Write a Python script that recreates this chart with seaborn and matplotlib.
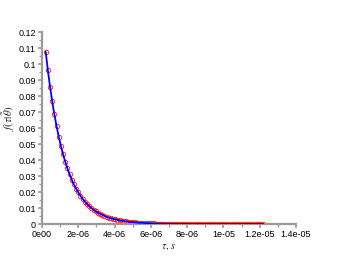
import numpy as np
import pandas as pd
import matplotlib
matplotlib.use('Agg')
import matplotlib.pyplot as plt
import seaborn as sns
from matplotlib.ticker import MultipleLocator

# tiempos en microsegundos
tau_us = [0.20, 0.32, 0.44, 0.56, 0.68, 0.80, 0.92, 1.04, 1.16, 1.28,
          1.40, 1.52, 1.64, 1.76, 1.88, 2.00, 2.12, 2.24, 2.36, 2.48,
          2.60, 2.72, 2.84, 2.96, 3.08, 3.20, 3.32, 3.44, 3.56, 3.68,
          3.80, 3.92, 4.04, 4.16, 4.28, 4.40, 4.52, 4.64, 4.76, 4.88,
          5.00, 5.12, 5.24, 5.36, 5.48, 5.60, 5.72, 5.84, 5.96, 6.08,
          6.20, 6.32, 6.44, 6.56, 6.68, 6.80, 6.92, 7.04, 7.16, 7.28,
          7.40, 7.52, 7.64, 7.76, 7.88, 8.00, 8.12, 8.24, 8.36, 8.48,
          8.60, 8.72, 8.84, 8.96, 9.08, 9.20, 9.32, 9.44, 9.56, 9.68,
          9.80, 9.92, 10.04, 10.16, 10.28, 10.40, 10.52, 10.64, 10.76, 10.88,
          11.00, 11.12, 11.24, 11.36, 11.48, 11.60, 11.72, 11.84, 11.96, 12.08,
          12.20]

f_vals = [0.1077, 0.0962, 0.0859, 0.0767, 0.0685, 0.0612, 0.0546, 0.0488, 0.0436, 0.0389,
          0.0347, 0.0310, 0.0277, 0.0247, 0.0221, 0.0197, 0.0176, 0.0157, 0.0140, 0.0125,
          0.0112, 0.0100, 0.0089, 0.0080, 0.0071, 0.0064, 0.0057, 0.0051, 0.0045, 0.0040,
          0.0036, 0.0032, 0.0029, 0.0026, 0.0023, 0.0021, 0.0018, 0.0016, 0.0015, 0.0013,
          0.0012, 0.0011, 0.0009, 0.0008, 0.0008, 0.0007, 0.0006, 0.0005, 0.0005, 0.0004,
          0.0004, 0.0003, 0.0003, 0.0003, 0.0002, 0.0002, 0.0002, 0.0002, 0.0001, 0.0001,
          0.0001, 0.0001, 0.0001, 0.0001, 0.0001, 0.0000, 0.0000, 0.0000, 0.0000, 0.0000,
          0.0000, 0.0000, 0.0000, 0.0000, 0.0000, 0.0000, 0.0000, 0.0000, 0.0000, 0.0000,
          0.0000, 0.0000, 0.0000, 0.0000, 0.0000, 0.0000, 0.0000, 0.0000, 0.0000, 0.0000,
          0.0000, 0.0000, 0.0000, 0.0000, 0.0000, 0.0000, 0.0000, 0.0000, 0.0000, 0.0000,
          0.0000]

x_ticks = [0, 2e-6, 4e-6, 6e-6, 8e-6, 1e-5, 1.2e-5, 1.4e-5]
x_labels = ['0e00', '2e-06', '4e-06', '6e-06', '8e-06', '1e-05', '1.2e-05', '1.4e-05']
y_ticks = [0, 0.01, 0.02, 0.03, 0.04, 0.05, 0.06, 0.07, 0.08, 0.09, 0.1, 0.11, 0.12]
y_labels = ['0', '0.01', '0.02', '0.03', '0.04', '0.05', '0.06', '0.07', '0.08', '0.09', '0.1', '0.11', '0.12']

df = pd.DataFrame({'tau': np.array(tau_us) * 1e-6, 'f': f_vals})

sns.set_style('ticks')
plt.rcParams['font.family'] = ['Liberation Sans', 'DejaVu Sans']
plt.rcParams['mathtext.fontset'] = 'stix'

fig = plt.figure(figsize=(3.39, 2.56), dpi=100)
ax = fig.add_axes([0.124, 0.125, 0.749, 0.75])

# puntos (circulos rojos huecos) y curva azul
sns.lineplot(data=df, x='tau', y='f', ax=ax, linestyle='', marker='o', markersize=3.2,
             markerfacecolor='none', markeredgecolor='#ff2a2a', markeredgewidth=0.7, zorder=2)
sns.lineplot(data=df, x='tau', y='f', ax=ax, color='#0000ff', linewidth=1.3, zorder=3)

ax.set_xlim(0, 1.4e-5)
ax.set_ylim(0, 0.12)
ax.set_xticks(x_ticks)
ax.set_xticklabels(x_labels)
ax.set_yticks(y_ticks)
ax.set_yticklabels(y_labels)
ax.xaxis.set_minor_locator(MultipleLocator(1e-6))
ax.yaxis.set_minor_locator(MultipleLocator(0.005))

for side in ['top', 'right']:
    ax.spines[side].set_visible(False)
for side in ['left', 'bottom']:
    ax.spines[side].set_color('#9a9a9a')
    ax.spines[side].set_linewidth(1.6)

ax.tick_params(which='major', direction='out', length=3, width=1.2, color='#9a9a9a',
               labelsize=6.5, labelcolor='black', pad=1.5)
ax.tick_params(which='minor', direction='out', length=2, width=0.9, color='#9a9a9a')

ax.set_xlabel(r'$\tau,\, s$', fontsize=7.5, labelpad=2)
ax.set_ylabel(r'$f(\tau|\tilde{\theta})$', fontsize=8)
ax.yaxis.set_label_coords(-0.098, 0.55)

plt.savefig('out.png', dpi=100)
